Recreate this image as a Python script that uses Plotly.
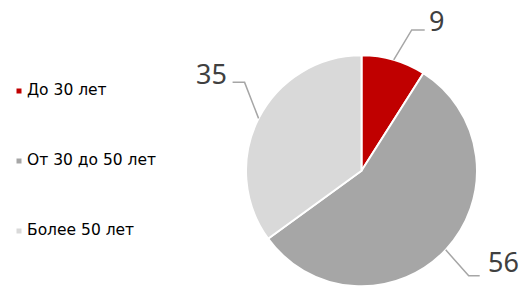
import math
import plotly.graph_objects as go

# ---- data ----
categories = ["До 30 лет", "От 30 до 50 лет", "Более 50 лет"]
values = [9, 56, 35]
colors = ["#C00000", "#A6A6A6", "#D9D9D9"]

W, H = 524, 287

# pie geometry in window pixels (style)
cx, cy, R = 361.5, 170.8, 115.5

# label styling: elbow offset from arc point, horizontal run, text offset from line end, text anchor
label_style = [
    dict(elbow=(18, -30), run=13, tdx=2, tdy=-9, anchor="left"),
    dict(elbow=(23, 26), run=11, tdx=6, tdy=-14, anchor="left"),
    dict(elbow=(-14, -36), run=-12, tdx=-4, tdy=-9, anchor="right"),
]

def px(x):
    return x / W

def py(y):
    return 1 - y / H

fig = go.Figure()

fig.add_trace(go.Pie(
    labels=categories, values=values, sort=False, direction="clockwise", rotation=0,
    marker=dict(colors=colors, line=dict(color="white", width=2)),
    textinfo="none", hoverinfo="label+value", showlegend=False,
    domain=dict(x=[px(cx - R), px(cx + R)], y=[max(0, py(cy + R)), min(1, py(cy - R))]),
))

# legend drawn as scatter traces on their own hidden axes (x axis in pixel units)
leg_x0, leg_y0, leg_step, text_gap = 19, 91, 70, 8
rows = list(range(len(categories)))
fig.add_trace(go.Scatter(
    x=[0] * len(categories), y=rows, mode="markers",
    marker=dict(symbol="square", size=5, color=colors),
    hoverinfo="skip", showlegend=False, xaxis="x", yaxis="y", cliponaxis=False,
))
fig.add_trace(go.Scatter(
    x=[text_gap] * len(categories), y=rows, mode="text", text=categories,
    textposition="middle right",
    textfont=dict(family="DejaVu Sans", size=15.5, color="#000000"),
    hoverinfo="skip", showlegend=False, xaxis="x", yaxis="y", cliponaxis=False,
))

# outside labels with leader lines, positioned from slice angles
total = sum(values)
cum = 0
shapes, annotations = [], []
for v, st in zip(values, label_style):
    mid = (cum + v / 2) / total * 2 * math.pi
    cum += v
    ax = cx + R * math.sin(mid)
    ay = cy - R * math.cos(mid)
    ex, ey = ax + st["elbow"][0], ay + st["elbow"][1]
    hx = ex + st["run"]
    shapes.append(dict(
        type="path", xref="paper", yref="paper",
        path=f"M {px(ax)},{py(ay)} L {px(ex)},{py(ey)} L {px(hx)},{py(ey)}",
        line=dict(color="#A6A6A6", width=1.5),
    ))
    annotations.append(dict(
        x=px(hx + st["tdx"]), y=py(ey + st["tdy"]), xref="paper", yref="paper",
        text=str(v), showarrow=False, xanchor=st["anchor"], yanchor="middle",
        font=dict(family="Noto Sans", size=27, color="#404040"),
    ))

x_dom = [px(leg_x0), 0.5]
y_top = -leg_y0 / leg_step
y_bot = (H - leg_y0) / leg_step
fig.update_layout(
    width=W, height=H, margin=dict(l=0, r=0, t=0, b=0),
    paper_bgcolor="white", plot_bgcolor="rgba(0,0,0,0)",
    xaxis=dict(domain=x_dom, range=[0, (x_dom[1] - x_dom[0]) * W], visible=False, fixedrange=True),
    yaxis=dict(domain=[0, 1], range=[y_bot, y_top], visible=False, fixedrange=True),
    shapes=shapes, annotations=annotations,
)

fig.write_html(
    "out.html",
    config={"displayModeBar": False},
    post_script="document.body.style.margin='0';document.body.style.overflow='hidden';",
)
